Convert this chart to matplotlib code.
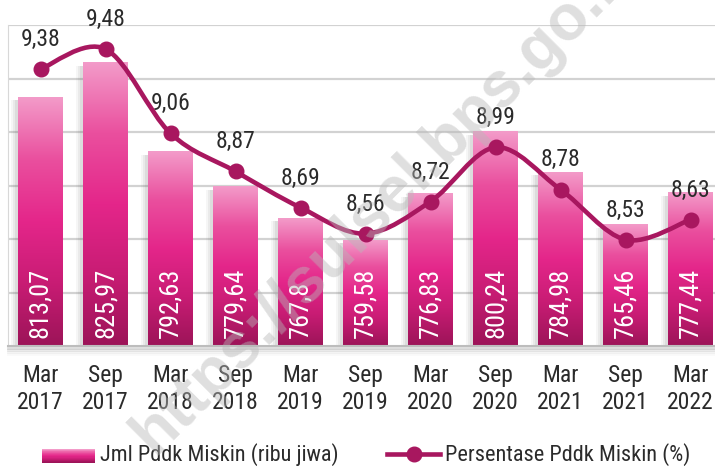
import numpy as np
import matplotlib
matplotlib.use('Agg')
import matplotlib.pyplot as plt
from matplotlib.colors import LinearSegmentedColormap
from matplotlib.legend_handler import HandlerBase
from matplotlib.patches import Rectangle, PathPatch
from matplotlib.path import Path
from matplotlib.lines import Line2D

plt.rcParams['font.family'] = ['Roboto Condensed', 'DejaVu Sans']

bulan = ['Mar', 'Sep', 'Mar', 'Sep', 'Mar', 'Sep', 'Mar', 'Sep', 'Mar', 'Sep', 'Mar']
tahun = ['2017', '2017', '2018', '2018', '2019', '2019', '2020', '2020', '2021', '2021', '2022']
jml_miskin = [813.07, 825.97, 792.63, 779.64, 767.8, 759.58, 776.83, 800.24, 784.98, 765.46, 777.44]
persen_miskin = [9.38, 9.48, 9.06, 8.87, 8.69, 8.56, 8.72, 8.99, 8.78, 8.53, 8.63]

W, H = 715, 469
txt = '#2b2b2b'
garis = '#a8175f'
cmap = LinearSegmentedColormap.from_list('batang', ['#9c1458', '#c81c74', '#e4268a', '#ea4f9e', '#f39bc9'])

fig = plt.figure(figsize=(W / 100, H / 100), dpi=100)
ax = fig.add_axes([8 / W, 1 - 346 / H, (723 - 8) / W, (346 - 25) / H])
ax2 = ax.twinx()

x = np.arange(len(jml_miskin))
lebar = 0.68
ymin = 720
px = 1 / 65.0  # satu piksel dalam satuan kategori

# bayangan + batang gradasi
grad = np.linspace(0, 1, 256).reshape(-1, 1)
for xi, v in zip(x, jml_miskin):
    for k, a in [(7, 0.05), (5, 0.07), (3, 0.09)]:
        ax.add_patch(Rectangle((xi - lebar / 2 - k * px, ymin), lebar, v - ymin - 1.2,
                               facecolor='#555555', alpha=a, edgecolor='none', zorder=1.5))
    ax.imshow(grad, extent=(xi - lebar / 2, xi + lebar / 2, ymin, v), origin='lower',
              aspect='auto', cmap=cmap, interpolation='bilinear', zorder=2)
    ax.annotate(f'{v:g}'.replace('.', ','), (xi, ymin), xytext=(0, 5.8), textcoords='offset points',
                rotation=90, ha='center', va='bottom', color='white', fontsize=19, zorder=3)

ax.set_xlim(-0.5, len(x) - 0.5)
ax.set_ylim(720, 840)
ax.set_yticks(np.arange(740, 841, 20))
ax.yaxis.grid(True, color='#d2d2d2', lw=1.6)
ax.set_axisbelow(True)
ax.tick_params(axis='y', left=False, labelleft=False)
ax.set_xticks(x)
ax.set_xticklabels([f'{b}\n{t}' for b, t in zip(bulan, tahun)], fontsize=17, color=txt, linespacing=1.2)
ax.tick_params(axis='x', length=0, pad=13)
for s in ['top', 'right']:
    ax.spines[s].set_visible(False)
ax.spines['left'].set_color('#d8d8d8')
ax.spines['bottom'].set_color('#bdbdbd')
ax.spines['bottom'].set_linewidth(1.5)
for s in ax2.spines.values():
    s.set_visible(False)

# bayangan bawah area plot
for k, a in [(2, 0.25), (4, 0.15), (6, 0.08), (8, 0.04)]:
    ax.plot([-0.5, len(x)], [ymin - k * 120 / 321] * 2, color='#777777', alpha=a, lw=2,
            clip_on=False, zorder=0.5)

# garis persentase (dihaluskan)
pts = np.column_stack([x, persen_miskin]).astype(float)
ext = np.vstack([pts[0], pts, pts[-1]])
verts = [tuple(pts[0])]
codes = [Path.MOVETO]
for i in range(len(pts) - 1):
    p0, p1, p2, p3 = ext[i], ext[i + 1], ext[i + 2], ext[i + 3]
    c1 = p1 + (p2 - p0) / 6
    c2 = p2 - (p3 - p1) / 6
    verts += [tuple(c1), tuple(c2), tuple(p2)]
    codes += [Path.CURVE4] * 3
ax2.add_patch(PathPatch(Path(verts, codes), facecolor='none', edgecolor=garis, lw=3.3,
                        capstyle='round', zorder=4))
ax2.plot(x, persen_miskin, 'o', color=garis, ms=10.5, zorder=5)
for xi, p in zip(x, persen_miskin):
    ax2.annotate(f'{p:.2f}'.replace('.', ','), (xi, p), xytext=(0, 16.6), textcoords='offset points',
                 ha='center', va='baseline', fontsize=17, color=txt)
ax2.set_ylim(8.0, 9.6)
ax2.set_yticks([])


class GradHandler(HandlerBase):
    def create_artists(self, legend, orig, xd, yd, w, h, fs, trans):
        n = 24
        return [Rectangle((xd, yd + h * i / n), w, h / n * 1.05, facecolor=cmap(i / (n - 1)),
                          edgecolor='none', transform=trans) for i in range(n)]


h_bar = Rectangle((0, 0), 1, 1)
h_line = Line2D([], [], color=garis, lw=3.3, marker='o', ms=10.5)
fig.legend([h_bar, h_line], ['Jml Pddk Miskin (ribu jiwa)', 'Persentase Pddk Miskin (%)'],
           handler_map={Rectangle: GradHandler()}, loc='center',
           bbox_to_anchor=(366 / W, 1 - 455 / H), ncol=2, frameon=False, fontsize=16,
           labelcolor=txt, handlelength=2.4, handleheight=0.55, handletextpad=0.2,
           columnspacing=2.2, numpoints=1)

fig.text(388 / W, 1 - 198 / H, 'https://sulsel.bps.go.id', rotation=45, ha='center', va='center',
         rotation_mode='anchor', fontsize=46, fontweight='bold', family=['Liberation Sans', 'DejaVu Sans'],
         color='#b8b8b8', alpha=0.45, zorder=10)

fig.savefig('out.png', dpi=100, facecolor='white')
